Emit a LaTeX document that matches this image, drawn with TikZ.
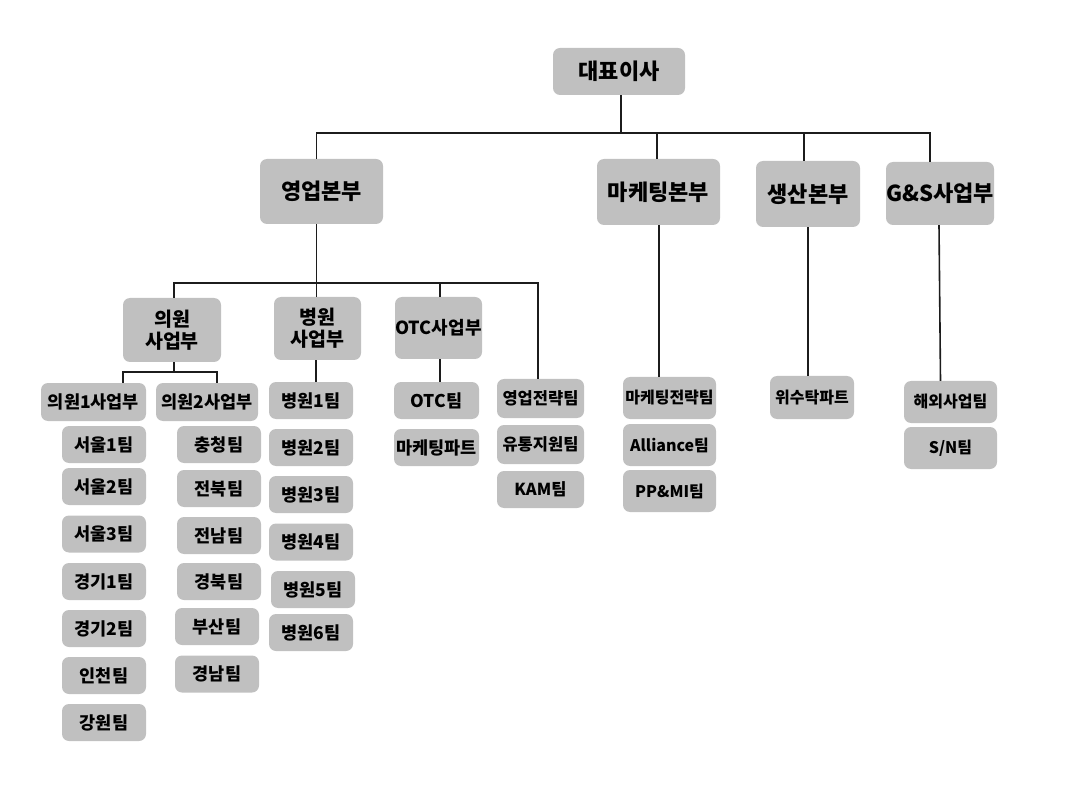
\documentclass[tikz,border=0pt]{standalone}
\usepackage{fontspec}
\setmainfont{Noto Sans CJK KR}
\usepackage{tikz}
\usetikzlibrary{calc}

\definecolor{boxgray}{RGB}{192,192,192}
\definecolor{linegray}{RGB}{28,28,28}

\begin{document}
\begin{tikzpicture}[x=1pt, y=-1pt,
  box/.style={fill=boxgray, rounded corners=7pt, inner sep=0pt, align=center, font=\bfseries},
  head/.style={box, font=\bfseries\fontsize{22}{26}\selectfont},
  div/.style={box, font=\bfseries\fontsize{19.5}{22}\selectfont},
  team/.style={box, minimum width=84pt, minimum height=37pt, font=\bfseries\fontsize{17.5}{20}\selectfont},
  smallteam/.style={box, minimum width=93pt, minimum height=42pt, font=\bfseries\fontsize{16}{19}\selectfont},
  link/.style={draw=linegray, line width=1.6pt}]

\useasboundingbox (0,0) rectangle (1092,791);

%\newcommand{\toprow}{133}
\newcommand{\colseoul}{104}
\newcommand{\colsouth}{219}
\newcommand{\colhosp}{311}

	% top
	\node[head, minimum width=132pt, minimum height=47pt] (ceo) at (619,71.5) {대표이사};
	\node[head, minimum width=123pt, minimum height=65pt] (sales) at (321.5,191.5) {영업본부};
	\node[head, minimum width=123pt, minimum height=66pt] (mkt) at (658.5,192) {마케팅본부};
	\node[head, minimum width=104pt, minimum height=66pt] (prod) at (808,194) {생산본부};
	\node[head, minimum width=108pt, minimum height=63pt] (gs) at (940,193.5) {G\&S사업부};

	\coordinate (bar) at (0,133);
	\coordinate (salesbar) at (0,283);

	% sales divisions
	\node[div, minimum width=98pt, minimum height=64pt] (clinic) at (172,330) {의원\\사업부};
	\node[div, minimum width=87pt, minimum height=63pt] (hosp) at (317.5,328.5) {병원\\사업부};
	\node[div, minimum width=87pt, minimum height=62pt, font=\bfseries\fontsize{18}{21}\selectfont] (otc) at (438.5,328) {OTC사업부};

	\node[team, minimum width=105pt, minimum height=38pt] (clinicA) at (93.5,402) {의원1사업부};
	\node[team, minimum width=102pt, minimum height=38pt] (clinicB) at (207,402) {의원2사업부};

	\node[team] (seoulA) at (\colseoul,444.5) {서울1팀};
	\node[team] (seoulB) at (\colseoul,486.5) {서울2팀};
	\node[team] (seoulC) at (\colseoul,534) {서울3팀};
	\node[team] (gyeonggiA) at (\colseoul,581.5) {경기1팀};
	\node[team] (gyeonggiB) at (\colseoul,628.5) {경기2팀};
	\node[team] (incheon) at (\colseoul,675.5) {인천팀};
	\node[team] (gangwon) at (\colseoul,722.5) {강원팀};

	\node[team] (chungcheong) at (\colsouth,444.5) {충청팀};
	\node[team] (jeonbuk) at (\colsouth,488.5) {전북팀};
	\node[team] (jeonnam) at (\colsouth,535.5) {전남팀};
	\node[team] (gyeongbuk) at (\colsouth,581.5) {경북팀};
	\node[team] (busan) at (217,626.5) {부산팀};
	\node[team] (gyeongnam) at (217,674) {경남팀};

	\node[team] (hospA) at (\colhosp,400.5) {병원1팀};
	\node[team] (hospB) at (\colhosp,447.5) {병원2팀};
	\node[team] (hospC) at (\colhosp,494.5) {병원3팀};
	\node[team] (hospD) at (\colhosp,542) {병원4팀};
	\node[team] (hospE) at (313,589.5) {병원5팀};
	\node[team] (hospF) at (\colhosp,632.5) {병원6팀};

	\node[team, minimum width=85pt] (otcteam) at (436.5,400.5) {OTC팀};
	\node[team, minimum width=85pt] (otcmkt) at (436.5,447.5) {마케팅파트};

	\node[team, minimum width=87pt, minimum height=39pt, font=\bfseries\fontsize{16.5}{19}\selectfont] (strat) at (540.5,398.5) {영업전략팀};
	\node[team, minimum width=87pt, minimum height=39pt, font=\bfseries\fontsize{16.5}{19}\selectfont] (logis) at (540.5,444.5) {유통지원팀};
	\node[team, minimum width=87pt, minimum height=37pt, font=\bfseries\fontsize{16.5}{19}\selectfont] (kam) at (540.5,489.5) {KAM팀};

	% other headquarters
	\node[smallteam] (mktstrat) at (669.5,398) {마케팅전략팀};
	\node[smallteam] (alliance) at (669.5,445) {Alliance팀};
	\node[smallteam] (ppmi) at (669.5,491) {PP\&MI팀};

	\node[smallteam, minimum width=84pt, minimum height=43pt] (consign) at (812,397.5) {위수탁파트};

	\node[smallteam] (overseas) at (950.5,402) {해외사업팀};
	\node[smallteam] (sn) at (950.5,448) {S/N팀};

	% lines
	\draw[link] ([xshift=2pt]ceo.south) -- ([xshift=2pt]ceo.south |- bar);
	\draw[link] ([xshift=-5pt]sales.north) |- ([xshift=-10pt]gs.north |- bar) -- ([xshift=-10pt]gs.north);
	\draw[link] ([xshift=-1.5pt]mkt.north) -- ([xshift=-1.5pt]mkt.north |- bar);
	\draw[link] ([xshift=-4pt]prod.north) -- ([xshift=-4pt]prod.north |- bar);

	\draw[link] ([xshift=-5pt]sales.south) -- ([xshift=-1pt]hosp.north);
	\draw[link] ([xshift=2pt]clinic.north) |- ([xshift=-2.5pt]strat.north |- salesbar) -- ([xshift=-2.5pt]strat.north);
	\draw[link] ([xshift=1.5pt]otc.north) -- ([xshift=1.5pt]otc.north |- salesbar);

	\draw[link] ([xshift=2pt]clinic.south) -- ++(0,10) coordinate (clinicbar);
	\draw[link] ([xshift=29.5pt]clinicA.north) |- ([xshift=10pt]clinicB.north |- clinicbar) -- ([xshift=10pt]clinicB.north);
	\draw[link] ([xshift=-1.5pt]hosp.south) -- ([xshift=5pt]hospA.north);
	\draw[link] ([xshift=1.5pt]otc.south) -- ([xshift=3.5pt]otcteam.north);

	\draw[link] ([xshift=0.5pt]mkt.south) -- ([xshift=-10.5pt]mktstrat.north);
	\draw[link] (prod.south) -- ([xshift=-4pt]consign.north);
	\draw[link] ([xshift=-1pt]gs.south) -- ([xshift=-10pt]overseas.north);
  \end{tikzpicture}
\end{document}
